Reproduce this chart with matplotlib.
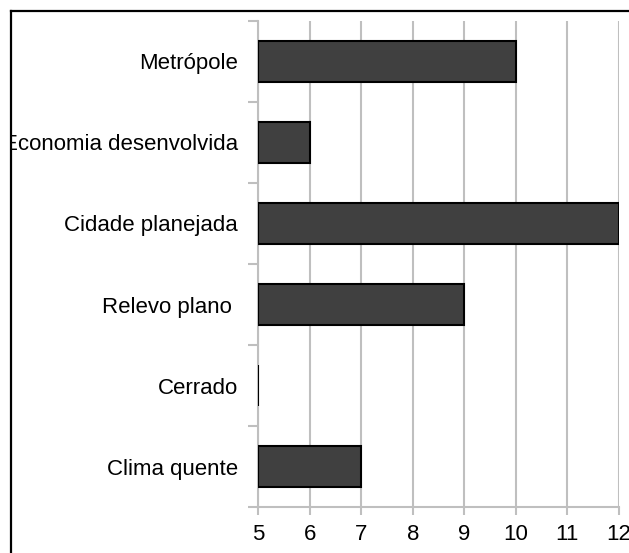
import matplotlib
matplotlib.use("Agg")
import matplotlib.pyplot as plt
from matplotlib.lines import Line2D
from matplotlib.transforms import Bbox
import numpy as np

categories = ["Clima quente", "Cerrado", "Relevo plano ", "Cidade planejada",
              "Economia desenvolvida", "Metrópole"]
values = [7, 5, 9, 12, 6, 10]
xticks = [5, 6, 7, 8, 9, 10, 11, 12]
axis_min = 5

W, H = 629, 553
plt.rcParams['font.family'] = ['Liberation Sans', 'DejaVu Sans']
fig = plt.figure(figsize=(W / 100, H / 100), dpi=100)
ax = fig.add_axes([258 / W, 1 - 507 / H, (619 - 258) / W, (507 - 21) / H])

y = np.arange(len(categories))
widths = [v - axis_min for v in values]
ax.barh(y, widths, left=axis_min, height=0.5, color="#404040",
        edgecolor="black", linewidth=1.5, zorder=3)

FS = 16
ax.set_xlim(5, 12)
ax.set_ylim(-0.5, len(categories) - 0.5)
ax.set_xticks(xticks)
ax.set_xticklabels([str(t) for t in xticks], fontsize=FS)
ax.set_yticks(y)
ax.set_yticklabels(categories, fontsize=FS)
ax.set_yticks(np.arange(-0.5, len(categories), 1.0), minor=True)

ax.grid(axis="x", color="#BFBFBF", linewidth=1.5, zorder=0)
for s in ["top", "right"]:
    ax.spines[s].set_visible(False)
for s in ["left", "bottom"]:
    ax.spines[s].set_color("#BFBFBF")
    ax.spines[s].set_linewidth(1.5)

ax.tick_params(axis="y", which="major", length=0, pad=14.5)
ax.tick_params(axis="y", which="minor", length=7, width=1.5, color="#BFBFBF")
ax.tick_params(axis="x", which="major", length=6, width=1.5, color="#BFBFBF", pad=6)

# clip labels at the chart border
clip = Bbox.from_extents(12, 0, W, H - 12)
for lab in ax.get_yticklabels():
    lab.set_clip_box(clip)
    lab.set_clip_on(True)

# outer chart border (top and left visible)
fig.add_artist(Line2D([11 / W, 11 / W], [0, 1 - 11 / H], color="black",
                      linewidth=1.6, transform=fig.transFigure))
fig.add_artist(Line2D([11 / W, 1], [1 - 11 / H, 1 - 11 / H], color="black",
                      linewidth=1.6, transform=fig.transFigure))

fig.savefig("out.png", dpi=100)
